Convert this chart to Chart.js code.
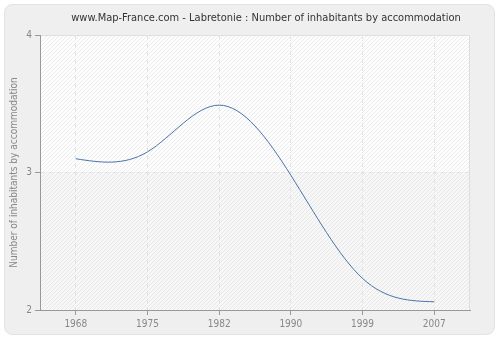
<!DOCTYPE html>
<html>
<head>
<meta charset="utf-8">
<script src="https://cdn.jsdelivr.net/npm/chart.js@4/dist/chart.umd.min.js"></script>
<style>
    html, body { margin: 0; padding: 0; background: #fff; }
    #wrap { width: 500px; height: 340px; position: relative; }
</style>
</head>
<body>
<div id="wrap"><canvas id="chart" width="500" height="340"></canvas></div>
<script>
'use strict';

const years = ['1968', '1975', '1982', '1990', '1999', '2007'];
const inhabitants = [3.1, 3.15, 3.49, 2.98, 2.23, 2.06];
const yTicks = [2, 3, 4];

const titleText = 'www.Map-France.com - Labretonie : Number of inhabitants by accommodation';
const fontFamily = '"DejaVu Sans Condensed", "DejaVu Sans", sans-serif';

/* courbe lissée (spline naturelle) à partir des points placés par Chart.js */
const naturalSpline = {
    id: 'naturalSpline',
    beforeDatasetDraw(chart, args) {
        const line = args.meta.dataset;
        const pts = args.meta.data;
        if (!line || pts.length < 3) return;
        line.updateControlPoints(chart.chartArea, 'x');

        const n = pts.length;
        const xs = pts.map(p => p.x);
        const ys = pts.map(p => p.y);
        const h = [];
        for (let i = 0; i < n - 1; i++) h.push(xs[i + 1] - xs[i]);

        // système tridiagonal pour les dérivées secondes (M0 = Mn-1 = 0)
        const M = new Array(n).fill(0);
        const a = [], b = [], c = [], d = [];
        for (let i = 1; i < n - 1; i++) {
            a.push(h[i - 1]);
            b.push(2 * (h[i - 1] + h[i]));
            c.push(h[i]);
            d.push(6 * ((ys[i + 1] - ys[i]) / h[i] - (ys[i] - ys[i - 1]) / h[i - 1]));
        }
        const m = b.length;
        for (let i = 1; i < m; i++) {
            const w = a[i] / b[i - 1];
            b[i] -= w * c[i - 1];
            d[i] -= w * d[i - 1];
        }
        const sol = new Array(m);
        sol[m - 1] = d[m - 1] / b[m - 1];
        for (let i = m - 2; i >= 0; i--) sol[i] = (d[i] - c[i] * sol[i + 1]) / b[i];
        for (let i = 0; i < m; i++) M[i + 1] = sol[i];

        const slope = [];
        for (let i = 0; i < n - 1; i++) {
            slope.push((ys[i + 1] - ys[i]) / h[i] - h[i] * (2 * M[i] + M[i + 1]) / 6);
        }
        slope.push((ys[n - 1] - ys[n - 2]) / h[n - 2] + h[n - 2] * (M[n - 2] + 2 * M[n - 1]) / 6);

        for (let i = 0; i < n; i++) {
            const p = pts[i];
            const hPrev = i > 0 ? h[i - 1] : h[0];
            const hNext = i < n - 1 ? h[i] : h[n - 2];
            p.cp1x = p.x - hPrev / 3;
            p.cp1y = p.y - slope[i] * hPrev / 3;
            p.cp2x = p.x + hNext / 3;
            p.cp2y = p.y + slope[i] * hNext / 3;
        }
        line._path = undefined;
    }
};

/* panel gris + zone hachurée */
const backdrop = {
    id: 'backdrop',
    beforeDraw(chart) {
        const ctx = chart.ctx;
        const a = chart.chartArea;
        const yScale = chart.scales.y;
        ctx.save();
        ctx.fillStyle = '#fff';
        ctx.fillRect(0, 0, chart.width, chart.height);
        ctx.beginPath();
        ctx.roundRect(4.5, 4.5, 490, 330, 8);
        ctx.fillStyle = '#efefef';
        ctx.fill();
        ctx.strokeStyle = '#e2e2e2';
        ctx.lineWidth = 1;
        ctx.stroke();

        // bandes alternées
        const mid = yScale.getPixelForValue(yTicks[1]);
        ctx.fillStyle = '#fefefe';
        ctx.fillRect(a.left, a.top, a.right - a.left, mid - a.top);
        ctx.fillStyle = '#f7f7f7';
        ctx.fillRect(a.left, mid, a.right - a.left, a.bottom - mid);

        ctx.beginPath();
        ctx.rect(a.left, a.top, a.right - a.left, a.bottom - a.top);
        ctx.clip();
        ctx.strokeStyle = 'rgba(200,200,200,0.35)';
        ctx.lineWidth = 1;
        const hgt = a.bottom - a.top;
        for (let x = a.left - hgt; x < a.right; x += 4) {
            ctx.beginPath();
            ctx.moveTo(x, a.bottom);
            ctx.lineTo(x + hgt, a.top);
            ctx.stroke();
        }
        ctx.restore();

        ctx.save();
        ctx.strokeStyle = '#dddddd';
        ctx.lineWidth = 1;
        ctx.beginPath();
        ctx.moveTo(a.left, a.top + 0.5);
        ctx.lineTo(a.right - 0.5, a.top + 0.5);
        ctx.lineTo(a.right - 0.5, a.bottom);
        ctx.stroke();
        ctx.restore();
    },
    afterDraw(chart) {
        const ctx = chart.ctx;
        ctx.save();
        ctx.fillStyle = '#333';
        ctx.font = '11px ' + fontFamily;
        ctx.textAlign = 'center';
        ctx.textBaseline = 'middle';
        ctx.fillText(titleText, 266, 18);
        ctx.restore();
    }
};

const ctx = document.getElementById('chart').getContext('2d');
new Chart(ctx, {
    type: 'line',
    data: {
        labels: years,
        datasets: [{
            data: inhabitants,
            borderColor: '#4a74a8',
            borderWidth: 1,
            fill: false,
            tension: 0.4,
            pointRadius: 0
        }]
    },
    plugins: [backdrop, naturalSpline],
    options: {
        responsive: false,
        animation: false,
        layout: {
            padding: { left: 0, right: 30, top: 35, bottom: 8 }
        },
        plugins: {
            legend: { display: false },
            tooltip: { enabled: false }
        },
        scales: {
            x: {
                offset: true,
                afterFit(scale) { scale.height = 22; },
                grid: {
                    offset: false,
                    color: '#e2e2e2',
                    tickColor: '#999',
                    tickLength: 5,
                    tickBorderDash: []
                },
                border: { color: '#999', width: 1, dash: [4, 4] },
                ticks: {
                    color: '#888',
                    font: { family: fontFamily, size: 10 },
                    padding: 3,
                    maxRotation: 0
                }
            },
            y: {
                min: 2,
                max: 4,
                afterFit(scale) { scale.width = 40; },
                afterBuildTicks(scale) {
                    scale.ticks = yTicks.map(v => ({ value: v }));
                },
                grid: {
                    color: '#e2e2e2',
                    tickColor: '#999',
                    tickLength: 5,
                    tickBorderDash: []
                },
                border: { color: '#999', width: 1, dash: [4, 4] },
                title: {
                    display: true,
                    text: 'Number of inhabitants by accommodation',
                    color: '#888',
                    font: { family: fontFamily, size: 10 },
                    padding: { top: 8, bottom: 0 }
                },
                ticks: {
                    color: '#888',
                    font: { family: fontFamily, size: 10 },
                    padding: 3
                }
            }
        }
    }
});
</script>
</body>
</html>
